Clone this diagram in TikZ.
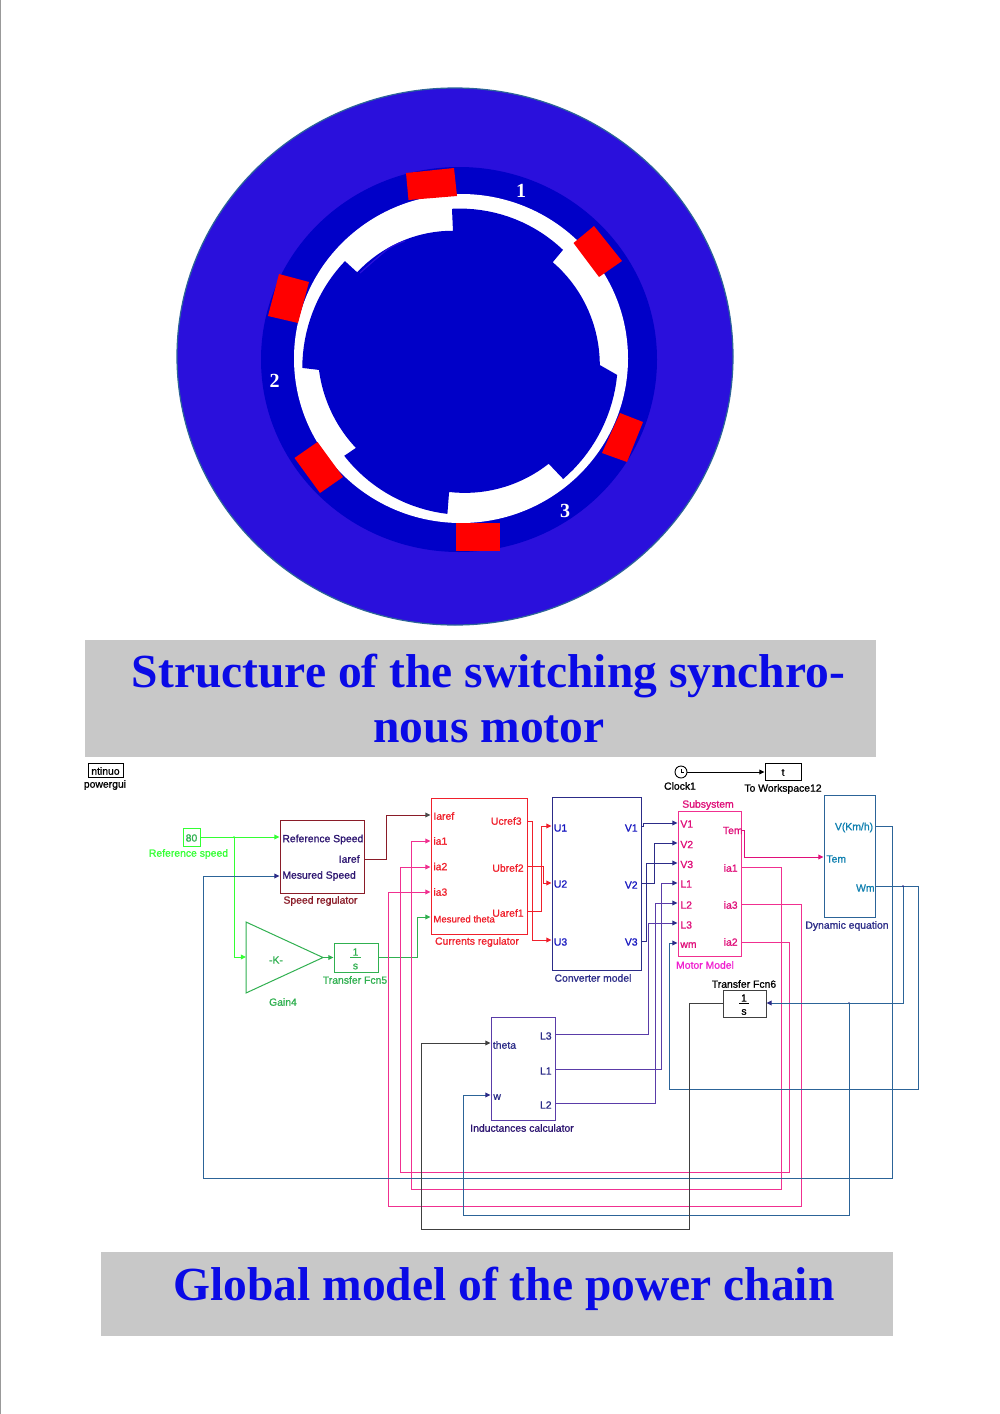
\documentclass[tikz,border=0pt]{standalone}
\usepackage{fontspec}
\setmainfont{Liberation Sans}
\newfontfamily\capfont{Liberation Serif}
\newfontfamily\diagfont[FakeBold=1]{Liberation Sans}
\usetikzlibrary{arrows.meta,fit}
\definecolor{outerblue}{HTML}{2A10DC}
\definecolor{darkblue}{HTML}{0000C8}
\definecolor{capblue}{HTML}{0A0AE6}
\definecolor{capgray}{HTML}{C8C8C8}
\definecolor{cgreen}{HTML}{33FF33}
\definecolor{mgreen}{HTML}{30B050}
\definecolor{dred}{HTML}{8A1C28}
\definecolor{cred}{HTML}{F0202C}
\definecolor{navy}{HTML}{2C2C88}
\definecolor{tblue}{HTML}{1818C0}
\definecolor{pink}{HTML}{F03090}
\definecolor{tpink}{HTML}{E0107A}
\definecolor{mag}{HTML}{F020D0}
\definecolor{steel}{HTML}{2C6498}
\definecolor{teal}{HTML}{1080B0}
\definecolor{purp}{HTML}{5A3CA8}
\definecolor{dpurp}{HTML}{2C1470}
\newcommand{\rarc}[4]{-- plot[domain=#1:#2,samples=18] ({461+(#3+(#4-#3)*(\x-#1)/(#2-#1))*cos(\x)},{358.5+(#3+(#4-#3)*(\x-#1)/(#2-#1))*sin(\x)})}
\tikzset{
  txt/.style={inner sep=0pt,font=\diagfont\fontsize{5.2}{6}\selectfont},
  blk/.style={draw,inner sep=0pt,line width=0.5pt},
  wire/.style={line width=0.5pt,-{Triangle[length=2.6pt,width=2.4pt]}},
  jdot/.style={circle,fill,inner sep=0pt,minimum size=1pt},
  captxt/.style={inner sep=0pt,anchor=base,text=capblue,font=\capfont\fontsize{23.75}{28}\selectfont\bfseries},
  numtxt/.style={inner sep=0pt,text=white,font=\capfont\fontsize{10}{12}\selectfont\bfseries},
  polefill/.style={fill=red}
}
\begin{document}
\begin{tikzpicture}[x=0.5pt,y=-0.5pt]
\useasboundingbox (0,0) rectangle (1000,1414);
\fill[white] (0,0) rectangle (1000,1414);
\fill[black!40] (0,0) rectangle (1.2,1414);
% motor
\filldraw[fill=outerblue,draw=steel,line width=0.6pt] (455,356.5) ellipse [x radius=139pt,y radius=134.25pt];
\fill[darkblue] (459,359.5) ellipse [x radius=99pt,y radius=96.25pt];
\fill[white] (461,358.5) ellipse [x radius=83.5pt,y radius=82.25pt];
\fill[darkblue] (452,209)
  \rarc{-93.4}{-46.8}{150}{149}
  \rarc{-46.4}{2.7}{133}{139}
  \rarc{6}{49.7}{157}{158}
  \rarc{50.2}{95.1}{137}{134}
  \rarc{95}{140.2}{156}{152}
  \rarc{139.6}{175.4}{138}{142.5}
  \rarc{176.6}{220}{159}{151.5}
  \rarc{219.7}{266.4}{135}{128}
  -- cycle;
\draw[outerblue,line width=0.6pt] plot[smooth] coordinates {(360,273)(388,249)(405,241)};
\fill[polefill] (406,173)--(454,168)--(457,196)--(408.5,200)--cycle;
\fill[polefill] (594,226)--(622,261)--(599,277)--(573.5,243)--cycle;
\fill[polefill] (279,274)--(309,282)--(298,323)--(268,316)--cycle;
\fill[polefill] (620,413)--(643,422)--(627,462)--(602,453)--cycle;
\fill[polefill] (317.5,442)--(343,477)--(320,493)--(294.5,458)--cycle;
\fill[polefill] (456,523)--(499.6,523)--(499.6,551)--(456,551)--cycle;
\node[numtxt] (n1) at (521,191) {1};
\node[numtxt] (n2) at (274.5,381) {2};
\node[numtxt] (n3) at (565,511) {3};
% captions
\fill[capgray] (85,640) rectangle (876,757);
\node[captxt] (c1a) at (488.5,687) {Structure of the switching synchro-};
\node[captxt] (c1b) at (489,742) {nous motor};
\fill[capgray] (101,1252) rectangle (893,1336);
\node[captxt] (c2) at (504,1300) {Global model of the power chain};
% powergui
\node[blk,fit={(88,763)(123,777)}] (pg) {};
\node[txt] (pgt) at (105.5,771) {ntinuo};
\node[txt] (pgl) at (105,785) {powergui};
% blocks
\node[blk,draw=cgreen,fit={(183,828)(200,846)}] (ref) {};
\node[txt,text=mgreen] (reft) at (191.5,838) {80};
\node[txt,text=cgreen] (refl) at (188.5,854) {Reference speed};
\node[blk,draw=dred,fit={(280,820)(364,893)}] (sr) {};
\node[txt,text=dpurp,anchor=west] (sr1) at (282,839.5) {Reference Speed};
\node[txt,text=dpurp,anchor=east] (sr2) at (360,859) {Iaref};
\node[txt,text=dpurp,anchor=west] (sr3) at (282,876) {Mesured Speed};
\node[txt,text=dred] (srl) at (320.5,901) {Speed regulator};
\coordinate (gain) at (246,957);
\coordinate (gapex) at (323,957.5);
\draw[mgreen,line width=0.5pt] (246,922) -- (gapex) -- (246,993) -- cycle;
\node[txt,text=mgreen] (gaint) at (276,960) {-K-};
\node[txt,text=mgreen] (gainl) at (283,1002) {Gain4};
\node[blk,draw=mgreen,fit={(334,943)(378,972)}] (tf5) {};
\node[txt,text=mgreen] (tf5a) at (355.5,952) {1};
\node[txt,text=mgreen] (tf5b) at (355.5,966.5) {s};
\draw[mgreen,line width=0.4pt] (350,957.5) -- (361,957.5);
\node[txt,text=mgreen] (tf5l) at (355,980) {Transfer Fcn5};
\node[blk,draw=cred,fit={(431,798)(527,934)}] (cr) {};
\node[txt,text=cred,anchor=west] (cr1) at (433,816) {Iaref};
\node[txt,text=cred,anchor=west] (cr2) at (433,841) {ia1};
\node[txt,text=cred,anchor=west] (cr3) at (433,866.5) {ia2};
\node[txt,text=cred,anchor=west] (cr4) at (433,892) {ia3};
\node[txt,text=cred,anchor=west,font=\diagfont\fontsize{4.8}{6}\selectfont] (cr5) at (433,919) {Mesured theta};
\node[txt,text=cred,anchor=east] (cr6) at (522,821) {Ucref3};
\node[txt,text=cred,anchor=east] (cr7) at (524,868) {Ubref2};
\node[txt,text=cred,anchor=east] (cr8) at (524,913) {Uaref1};
\node[txt,text=cred] (crl) at (477,942) {Currents regulator};
\node[blk,draw=navy,fit={(552,797)(641,970)}] (cm) {};
\node[txt,text=tblue,anchor=west] (cm1) at (553.5,828) {U1};
\node[txt,text=tblue,anchor=west] (cm2) at (553.5,884) {U2};
\node[txt,text=tblue,anchor=west] (cm3) at (553.5,942) {U3};
\node[txt,text=tblue,anchor=east] (cm4) at (638,828) {V1};
\node[txt,text=tblue,anchor=east] (cm5) at (638,885) {V2};
\node[txt,text=tblue,anchor=east] (cm6) at (638,942) {V3};
\node[txt,text=navy] (cml) at (593,978) {Converter model};
\node[blk,draw=pink,fit={(678,811)(741,956)}] (mm) {};
\node[txt,text=tpink,anchor=west] (m1) at (680,824) {V1};
\node[txt,text=tpink,anchor=west] (m2) at (680,844.5) {V2};
\node[txt,text=tpink,anchor=west] (m3) at (680,864.5) {V3};
\node[txt,text=tpink,anchor=west] (m4) at (680,884) {L1};
\node[txt,text=tpink,anchor=west] (m5) at (680,905) {L2};
\node[txt,text=tpink,anchor=west] (m6) at (680,925) {L3};
\node[txt,text=tpink,anchor=west] (m7) at (680,945) {wm};
\node[txt,text=tpink,anchor=east] (m8) at (743,830.5) {Tem};
\node[txt,text=tpink,anchor=east] (m9) at (738,868) {ia1};
\node[txt,text=tpink,anchor=east] (m10) at (738,905) {ia3};
\node[txt,text=tpink,anchor=east] (m11) at (738,942) {ia2};
\node[txt,text=tpink] (mtop) at (708,805) {Subsystem};
\node[txt,text=mag] (mbot) at (705,965) {Motor Model};
\node[blk,draw=steel,fit={(824,795)(875,917)}] (de) {};
\node[txt,text=teal,anchor=east] (d1) at (873.5,827.5) {V(Km/h)};
\node[txt,text=teal,anchor=west] (d2) at (826,859) {Tem};
\node[txt,text=teal,anchor=east] (d3) at (875,888) {Wm};
\node[txt,text=navy] (del) at (847,926) {Dynamic equation};
\node[blk,draw=black!75,fit={(723,990)(766,1017)}] (tf6) {};
\node[txt] (tf6a) at (744,998) {1};
\node[txt] (tf6b) at (744,1012) {s};
\draw[line width=0.4pt] (739,1003.5) -- (749,1003.5);
\node[txt] (tf6l) at (744,984) {Transfer Fcn6};
\node[blk,draw=purp,fit={(491,1017)(555,1120)}] (ic) {};
\node[txt,text=navy,anchor=west] (i1) at (492.5,1045) {theta};
\node[txt,text=navy,anchor=west] (i2) at (493,1097) {w};
\node[txt,text=navy,anchor=east] (i3) at (552,1036) {L3};
\node[txt,text=navy,anchor=east] (i4) at (552,1071) {L1};
\node[txt,text=navy,anchor=east] (i5) at (552,1105) {L2};
\node[txt,text=dpurp] (icl) at (522,1128) {Inductances calculator};
\node[circle,draw,line width=0.45pt,inner sep=0pt,minimum size=6pt] (clk) at (681,772) {};
\draw[line width=0.4pt] (clk.center) -- (681,768.5) (clk.center) -- (684,772);
\node[txt] (clkl) at (680,786) {Clock1};
\node[blk,fit={(765,763.5)(801,780.5)}] (tw) {};
\node[txt] (twt) at (783,772.5) {t};
\node[txt] (twl) at (783,789) {To Workspace12};
% connectors
\draw[wire] (clk.east) -- (tw.west);
\draw[wire,draw=cgreen,-{Triangle[length=2.6pt,width=2.4pt,color=cgreen]}] (ref.east |- 0,837) -- (sr.west |- 0,837);
\node[jdot,fill=cgreen] (j1) at (234,837) {};
\draw[wire,draw=cgreen,-{Triangle[length=2.6pt,width=2.4pt,color=cgreen]}] (j1) -- (234,957) -- (gain);
\draw[wire,draw=mgreen,-{Triangle[length=2.6pt,width=2.4pt,color=mgreen]}] (gapex) -- (tf5.west |- gapex);
\draw[wire,draw=mgreen,-{Triangle[length=2.6pt,width=2.4pt,color=mgreen]}] (tf5.east |- 0,957) -- (417,957) -- (417,917) -- (cr.west |- 0,917);
\draw[wire,draw=dred,-{Triangle[length=2.6pt,width=2.4pt,color=black!70]}] (sr.east |- 0,859) -- (386,859) -- (386,815) -- (cr.west |- 0,815);
\draw[wire,draw=cred] (cr.east |- 0,821) -- (532,821) -- (532,940) -- (cm.west |- 0,940);
\draw[wire,draw=cred] (cr.east |- 0,866) -- (543,866) -- (543,883) -- (cm.west |- 0,883);
\draw[wire,draw=cred] (cr.east |- 0,911) -- (541,911) -- (541,826) -- (cm.west |- 0,826);
\draw[wire,draw=navy] (cm.east |- 0,826) -- (643,826) -- (643,823) -- (mm.west |- 0,823);
\draw[wire,draw=navy] (cm.east |- 0,883) -- (654,883) -- (654,843) -- (mm.west |- 0,843);
\draw[wire,draw=navy] (cm.east |- 0,941) -- (646,941) -- (646,863) -- (mm.west |- 0,863);
\draw[wire,draw=purp,-{Triangle[length=2.6pt,width=2.4pt,color=navy]}] (ic.east |- 0,1069) -- (661,1069) -- (661,883) -- (mm.west |- 0,883);
\draw[wire,draw=purp,-{Triangle[length=2.6pt,width=2.4pt,color=navy]}] (ic.east |- 0,1103) -- (655,1103) -- (655,903) -- (mm.west |- 0,903);
\draw[wire,draw=purp,-{Triangle[length=2.6pt,width=2.4pt,color=navy]}] (ic.east |- 0,1034) -- (648,1034) -- (648,923) -- (mm.west |- 0,923);
\draw[wire,draw=tpink] (mm.east |- 0,830) -- (744,830) -- (744,857) -- (de.west |- 0,857);
\draw[wire,draw=pink] (mm.east |- 0,867) -- (781,867) -- (781,1189) -- (411.5,1189) -- (411.5,841) -- (cr.west |- 0,841);
\draw[wire,draw=pink] (mm.east |- 0,942) -- (789,942) -- (789,1172) -- (400.5,1172) -- (400.5,867) -- (cr.west |- 0,867);
\draw[wire,draw=pink] (mm.east |- 0,904) -- (801,904) -- (801,1206) -- (388.5,1206) -- (388.5,892) -- (cr.west |- 0,892);
\draw[wire,draw=steel,-{Triangle[length=2.6pt,width=2.4pt,color=navy]}] (de.east |- 0,826) -- (892,826) -- (892,1178) -- (203,1178) -- (203,876) -- (sr.west |- 0,876);
\draw[wire,draw=steel,-{Triangle[length=2.6pt,width=2.4pt,color=navy]}] (de.east |- 0,886) -- (918,886) -- (918,1089) -- (669,1089) -- (669,943) -- (mm.west |- 0,943);
\node[jdot,fill=navy] (j2) at (903,886) {};
\node[jdot,fill=navy] (j3) at (849,1003) {};
\draw[wire,draw=steel,-{Triangle[length=2.6pt,width=2.4pt,color=navy]}] (j2) -- (903,1003) -- (tf6.east |- 0,1003);
\draw[wire,draw=steel,-{Triangle[length=2.6pt,width=2.4pt,color=navy]}] (j3) -- (849,1215) -- (463,1215) -- (463,1095) -- (ic.west |- 0,1095);
\draw[wire,draw=black!75] (tf6.west |- 0,1003) -- (689,1003) -- (689,1229) -- (421,1229) -- (421,1043) -- (ic.west |- 0,1043);
\end{tikzpicture}
\end{document}
